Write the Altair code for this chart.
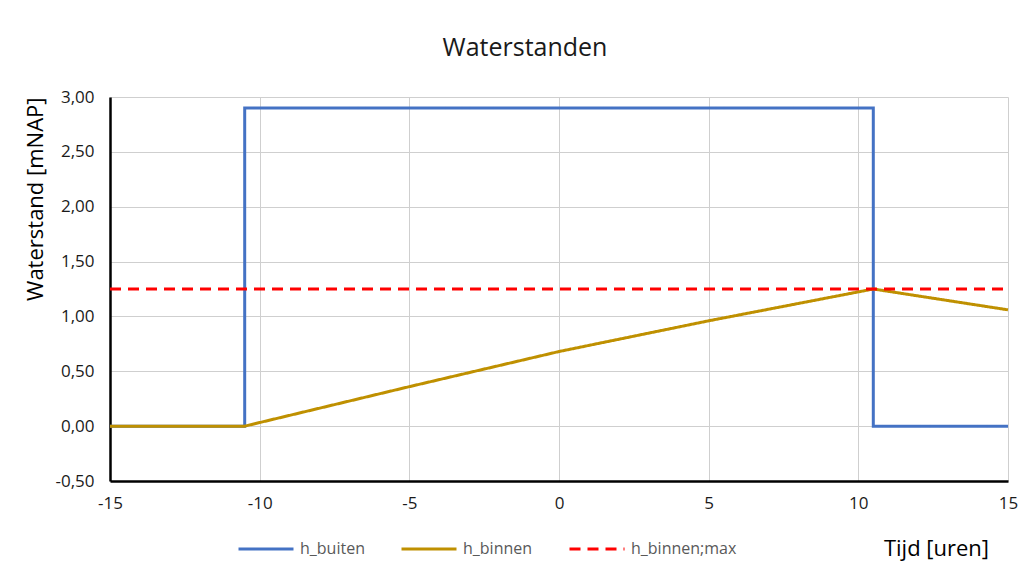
import altair as alt
import pandas as pd

# Data
series_names = ["h_buiten", "h_binnen", "h_binnen;max"]
series_colors = ["#4472C4", "#BF9000", "#FF0000"]

buiten_t = [-15, -10.5, -10.5, 10.5, 10.5, 15]
buiten_h = [0.0, 0.0, 2.90, 2.90, 0.0, 0.0]

binnen_t = [-15, -10.5, -5, 0, 5, 10.5, 15]
binnen_h = [0.0, 0.0, 0.36, 0.68, 0.96, 1.25, 1.06]

max_t = [-15, 15]
max_h = [1.25, 1.25]

x_ticks = [-15, -10, -5, 0, 5, 10, 15]
y_ticks = [-0.5, 0.0, 0.5, 1.0, 1.5, 2.0, 2.5, 3.0]

rows = []
for name, ts, hs in [(series_names[0], buiten_t, buiten_h),
                     (series_names[1], binnen_t, binnen_h),
                     (series_names[2], max_t, max_h)]:
    for i, (t, h) in enumerate(zip(ts, hs)):
        rows.append({"series": name, "t": t, "h": h, "i": i})
df = pd.DataFrame(rows)

FONT = "Open Sans"

legend = alt.Legend(
    title=None, orient="none", legendX=127, legendY=423, direction="horizontal",
    columns=3, symbolType="stroke", symbolSize=3025, symbolStrokeWidth=3,
    labelFontSize=16, labelColor="#595959", labelFont=FONT, labelOffset=5,
    columnPadding=30, padding=0,
)

color = alt.Color("series:N", scale=alt.Scale(domain=series_names, range=series_colors), legend=legend)
dash = alt.StrokeDash("series:N", scale=alt.Scale(domain=series_names, range=[[1, 0], [1, 0], [11, 7]]), legend=legend)

x_enc = alt.X("t:Q", scale=alt.Scale(domain=[-15, 15], nice=False),
              axis=alt.Axis(values=x_ticks, title="Tijd [uren]", labelFlush=False,
                            labelExpr="datum.value < 0 ? '-' + format(-datum.value, 'd') : format(datum.value, 'd')",
                            titleX=826, titleY=67, titleAlign="center", titleBaseline="middle"))
y_enc = alt.Y("h:Q", scale=alt.Scale(domain=[-0.5, 3.0], nice=False, zero=False),
              axis=alt.Axis(values=y_ticks, title="Waterstand [mNAP]", labelFlush=False,
                            labelExpr="datum.value < 0 ? '-' + replace(format(-datum.value, '.2f'), '.', ',') : replace(format(datum.value, '.2f'), '.', ',')",
                            titleX=-75, titleY=0, titleAlign="right", titleAngle=270,
                            titleBaseline="middle"))

def layer(name, width):
    return alt.Chart(df).transform_filter(alt.datum.series == name).mark_line(strokeWidth=width, strokeCap="butt").encode(
        x=x_enc, y=y_enc, color=color, strokeDash=dash, order=alt.Order("i:Q"))

chart = alt.layer(
    layer(series_names[0], 3),
    layer(series_names[1], 3),
    layer(series_names[2], 3),
).properties(
    width=898, height=384,
    title=alt.TitleParams("Waterstanden", font=FONT, fontSize=25, fontWeight="normal",
                          color="#1a1a1a", anchor="middle", dx=-34, offset=7,
                          baseline="alphabetic", frame="group"),
    autosize=alt.AutoSizeParams(type="none"),
    padding={"left": 102, "top": 89, "right": 14, "bottom": 90},
).configure_view(stroke=None).configure_axis(
    grid=True, gridColor="#cfcfcf", gridWidth=1, ticks=False,
    labelFont=FONT, labelFontSize=17, labelColor="#1a1a1a",
    titleFont=FONT, titleFontSize=22, titleFontWeight="normal", titleColor="#000000",
    domainColor="#000000", domainWidth=2.5,
).configure_axisX(labelPadding=14).configure_axisY(labelPadding=16)

chart.save("out.html", embed_options={"renderer": "svg", "actions": False})
